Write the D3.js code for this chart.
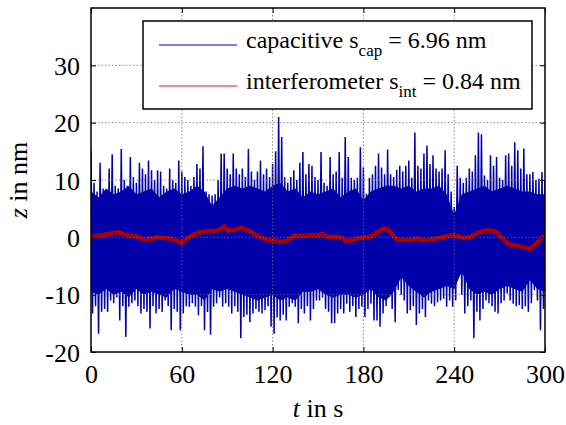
<!DOCTYPE html>
<html>
<head>
<meta charset="utf-8">
<script src="https://cdn.jsdelivr.net/npm/d3@7"></script>
<style>
  body { margin: 0; background: #fff; }
  svg { display: block; font-family: "Liberation Serif", "Times New Roman", Times, serif; }
</style>
</head>
<body>
<div id="chart"></div>
<script>
// Capacitive vs interferometer displacement noise over 300 s

// axis ticks
const xTicks = [0, 60, 120, 180, 240, 300];
const yTicks = [-20, -10, 0, 10, 20, 30];

// capacitive sensor: upper / lower peaks read every 2 s (nm)
const capTime = d3.range(0, 301, 2);
const capUpper = [
  15, 9.5, 8, 13, 8.5, 7.5, 12, 14.5, 9, 8.5,
  15.4, 10, 9, 14, 10.5, 9.5, 13, 12, 11, 13.4,
  11.7, 10, 11.7, 11.5, 9, 8.5, 12, 10, 9.5, 13.4,
  11.5, 10.5, 10, 9, 10.5, 12.8, 12, 15.9, 8, 7.5,
  7.3, 7.5, 10, 14.6, 14.6, 12, 11, 14.6, 12, 11,
  12, 10.5, 15.4, 11.5, 10, 11.5, 13.4, 11, 12, 10.5,
  12.8, 15, 21, 17.5, 10.5, 9.5, 10.5, 11.7, 10, 13,
  14.9, 11, 12.8, 12.5, 10.5, 10, 14.9, 9.5, 9, 14,
  11, 11.5, 14.9, 10.4, 17.5, 14, 10.4, 10, 10.4, 15.7,
  12.2, 7.6, 10.4, 11, 12.5, 14.6, 12.2, 11, 15.3, 11,
  10.5, 11.8, 12.5, 11.5, 12.5, 13.4, 10.4, 18.3, 12.5, 12,
  14.6, 16, 12.8, 14.3, 12, 11.5, 12, 15.2, 11, 8,
  5.3, 12.5, 10.4, 9.5, 10.4, 12, 11.5, 14.3, 18.3, 18,
  10.8, 10, 14.3, 12.5, 14, 10.4, 10, 14.3, 14.6, 12.5,
  16.6, 15.2, 12, 15.5, 11, 11, 11.4, 10, 10.2, 11.4,
  9.9
];
const capLower = [
  -13.3, -12, -16.8, -13, -12.5, -13, -11, -11.5, -10.5, -14.5,
  -12, -17.4, -12.1, -11.5, -11, -12, -13.3, -12.5, -13, -15.9,
  -12, -13.3, -12.5, -13, -11, -12, -16.2, -12.5, -13, -16.2,
  -13.3, -12, -12.1, -11.5, -12.1, -13.6, -12, -16.2, -13, -17,
  -12.1, -11.5, -10.5, -12.1, -11.5, -12.1, -13.3, -12, -13, -17.6,
  -13.9, -13.5, -14.8, -13.3, -12.5, -13, -13.3, -12.7, -12, -15.6,
  -16.8, -14, -14.5, -13.5, -14.5, -12.1, -11.5, -12.1, -15, -12.5,
  -13.3, -12, -14.5, -12.5, -11, -11, -10.5, -12.5, -13, -15,
  -15, -13.3, -12.5, -13.3, -11.6, -13, -12, -13.9, -12.5, -12.1,
  -13.9, -12.5, -11.6, -14.5, -14.5, -15.6, -13.3, -12, -10.4, -12.5,
  -14.8, -9.2, -10, -11, -13.3, -12.7, -12, -15.3, -13.3, -12.5,
  -13.9, -11, -11.6, -12, -11.3, -11, -10.7, -12.1, -11, -12.1,
  -11, -6.3, -10, -13.3, -12, -11, -17.6, -13, -14.5, -12.5,
  -11, -11.5, -12, -13, -13.3, -11.5, -11, -9.8, -11, -11.6,
  -12, -11.8, -12.5, -12, -13, -11.5, -9.2, -11, -16.2, -12.5,
  -12.1
];

// capacitive sensor: edge of the solid noise band, read every 5 s (nm)
const coreTime = d3.range(0, 301, 5);
const coreUpper = [
  8, 7, 8.5, 7.5, 8, 9, 7.5, 8, 8.5, 7,
  8, 8.5, 7.5, 8, 9, 8, 5.5, 7, 8.5, 9,
  8.5, 9, 8.5, 8, 9, 9.5, 8, 8.5, 7, 8,
  7.5, 8, 8.5, 7, 8, 8.5, 6.5, 8, 8.5, 9,
  9, 8.5, 9, 8, 8.5, 8.5, 9, 7.5, 4, 7.5,
  8, 8.5, 9, 8, 8.5, 9, 8.5, 8, 8, 7.5,
  7.5
];
const coreLower = [
  -9.5, -10, -9, -10, -9.5, -10.5, -9, -10, -9.5, -10,
  -10.5, -9, -9.5, -10, -10, -11, -9, -9.5, -9, -9.5,
  -10, -10.5, -11, -10.5, -10, -11, -10.5, -11, -9.5, -9.5,
  -9, -10, -10.5, -10, -10, -10.5, -10, -9, -10.5, -11,
  -9.5, -7, -8.5, -9.5, -10.5, -9.5, -9, -8.5, -9, -6,
  -9, -10, -9.5, -10, -9, -8.5, -9, -9.5, -7.5, -9,
  -9.5
];

// interferometer trace (nm)
const intTime = [
  0, 4, 8, 12, 16, 18, 22, 26, 30, 35, 40, 44, 50, 55, 60, 64, 68, 72, 77, 82,
  86, 88, 90, 95, 99, 104, 108, 112, 117, 121, 126, 130, 134, 139, 143, 150, 153, 157, 162, 166,
  168, 173, 177, 182, 186, 189, 193, 196, 198, 202, 206, 210, 215, 219, 224, 228, 232, 237, 241, 246,
  250, 254, 259, 263, 268, 272, 276, 281, 285, 290, 294, 298, 300
];
const intValue = [
  0, 0.3, 0.4, 0.6, 0.8, 0.9, 0.5, 0.3, 0.2, -0.4, -0.2, 0, -0.1, -0.4, -1.0, -0.1, 0.5, 0.9, 1.1, 1.1,
  1.5, 1.9, 1.2, 1.3, 1.7, 1.2, 0.6, 0, -0.5, -0.5, -0.8, -0.5, 0.3, 0.3, 0.3, 0.4, 0.6, 0, 0.1, -0.1,
  -0.6, -0.5, -0.1, 0, 0.3, 0.9, 1.5, 1.5, 0.9, -0.4, -0.4, -0.5, -0.2, -0.5, -0.4, -0.2, 0, 0.3, 0.3, -0.1,
  0, 0.6, 1.1, 1.3, 0.9, -0.2, -1.2, -1.4, -1.7, -2.0, -1.2, 0, 0.2
];

const legendLabels = [
  { main: 'capacitive s', sub: 'cap', rest: ' = 6.96 nm', color: '#0000b4' },
  { main: 'interferometer s', sub: 'int', rest: ' = 0.84 nm', color: '#d02020' }
];

const W = 566, H = 425;
const margin = { top: 8, right: 21, bottom: 73, left: 91 };
const width = W - margin.left - margin.right;
const height = H - margin.top - margin.bottom;
const blue = '#0000aa';

const svg = d3.select('#chart').append('svg')
  .attr('width', W)
  .attr('height', H);

svg.append('defs').append('clipPath')
  .attr('id', 'plotClip')
  .append('rect')
  .attr('width', width)
  .attr('height', height);

const g = svg.append('g')
  .attr('transform', `translate(${margin.left},${margin.top})`);

const x = d3.scaleLinear().domain([0, 300]).range([0, width]);
const y = d3.scaleLinear().domain([-20, 40]).range([height, 0]);

const plot = g.append('g').attr('clip-path', 'url(#plotClip)');

// solid part of the capacitive noise band
plot.append('path')
  .datum(coreTime.map((t, i) => [t, coreUpper[i], coreLower[i]]))
  .attr('d', d3.area()
    .x(d => x(d[0]))
    .y0(d => y(d[2]))
    .y1(d => y(d[1])))
  .attr('fill', blue);

// capacitive spikes: upper peak then lower peak in each 2 s step
const capPoints = [];
capTime.forEach((t, i) => {
  capPoints.push([t, capUpper[i]]);
  capPoints.push([t + 1, capLower[i]]);
});

const line = d3.line()
  .x(d => x(d[0]))
  .y(d => y(d[1]));

plot.append('path')
  .datum(capPoints)
  .attr('d', line)
  .attr('fill', 'none')
  .attr('stroke', blue)
  .attr('stroke-width', 1.5);

plot.append('path')
  .datum(intTime.map((t, i) => [t, intValue[i]]))
  .attr('d', line)
  .attr('fill', 'none')
  .attr('stroke', '#a80000')
  .attr('stroke-width', 4.5)
  .attr('stroke-linejoin', 'round');

// dotted grid
const grid = g.append('g').attr('class', 'grid');
grid.selectAll('.gx')
  .data(xTicks.slice(1, -1))
  .join('line')
  .attr('x1', d => x(d)).attr('x2', d => x(d))
  .attr('y1', 0).attr('y2', height)
  .attr('stroke', '#707070')
  .attr('stroke-width', 0.8)
  .attr('stroke-dasharray', '1.5,2');
grid.selectAll('.gy')
  .data(yTicks.slice(1))
  .join('line')
  .attr('x1', 0).attr('x2', width)
  .attr('y1', d => y(d)).attr('y2', d => y(d))
  .attr('stroke', '#707070')
  .attr('stroke-width', 0.8)
  .attr('stroke-dasharray', '1.5,2');

// axes with inward ticks on all four sides
const fontSize = 26;
const xAxis = g.append('g')
  .attr('transform', `translate(0,${height})`)
  .call(d3.axisBottom(x).tickValues(xTicks).tickSize(-5).tickPadding(13).tickFormat(d3.format('d')));
const yAxis = g.append('g')
  .call(d3.axisLeft(y).tickValues(yTicks).tickSize(-5).tickPadding(11).tickFormat(d => String(d)));
g.append('g')
  .call(d3.axisTop(x).tickValues(xTicks).tickSize(-5).tickFormat(''));
g.append('g')
  .attr('transform', `translate(${width},0)`)
  .call(d3.axisRight(y).tickValues(yTicks).tickSize(-5).tickFormat(''));

g.selectAll('.domain').remove();
g.selectAll('.tick line').attr('stroke', '#000').attr('stroke-width', 1);
[xAxis, yAxis].forEach(a => a.selectAll('text')
  .style('font-family', '"Liberation Serif", "Times New Roman", serif')
  .style('font-size', fontSize + 'px')
  .attr('fill', '#000'));
xAxis.selectAll('text').attr('dy', '0.71em');
yAxis.selectAll('text').attr('dy', '0.35em');

g.append('rect')
  .attr('width', width)
  .attr('height', height)
  .attr('fill', 'none')
  .attr('stroke', '#000')
  .attr('stroke-width', 1.5);

// axis labels
const xLab = svg.append('text')
  .attr('x', margin.left + width / 2)
  .attr('y', 417)
  .attr('text-anchor', 'middle')
  .style('font-size', fontSize + 'px');
xLab.append('tspan').style('font-style', 'italic').text('t');
xLab.append('tspan').text(' in s');

const yLab = svg.append('text')
  .attr('transform', `translate(27,${margin.top + height / 2}) rotate(-90)`)
  .attr('text-anchor', 'middle')
  .style('font-size', fontSize + 'px');
yLab.append('tspan').style('font-style', 'italic').text('z');
yLab.append('tspan').text(' in nm');

// legend
const legend = svg.append('g').attr('transform', 'translate(143,21)');
legend.append('rect')
  .attr('width', 389)
  .attr('height', 88)
  .attr('fill', '#fff')
  .attr('stroke', '#000')
  .attr('stroke-width', 1.5);

legendLabels.forEach((d, i) => {
  const row = legend.append('g').attr('transform', `translate(0,${24 + i * 41})`);
  row.append('line')
    .attr('x1', 16).attr('x2', 94)
    .attr('stroke', d.color)
    .attr('stroke-width', 1.2);
  const txt = row.append('text')
    .attr('x', 103)
    .attr('y', 3)
    .style('font-size', '24px');
  txt.append('tspan').text(d.main);
  txt.append('tspan').attr('dy', 8).style('font-size', '17px').text(d.sub);
  txt.append('tspan').attr('dy', -8).text(d.rest);
});
</script>
</body>
</html>
